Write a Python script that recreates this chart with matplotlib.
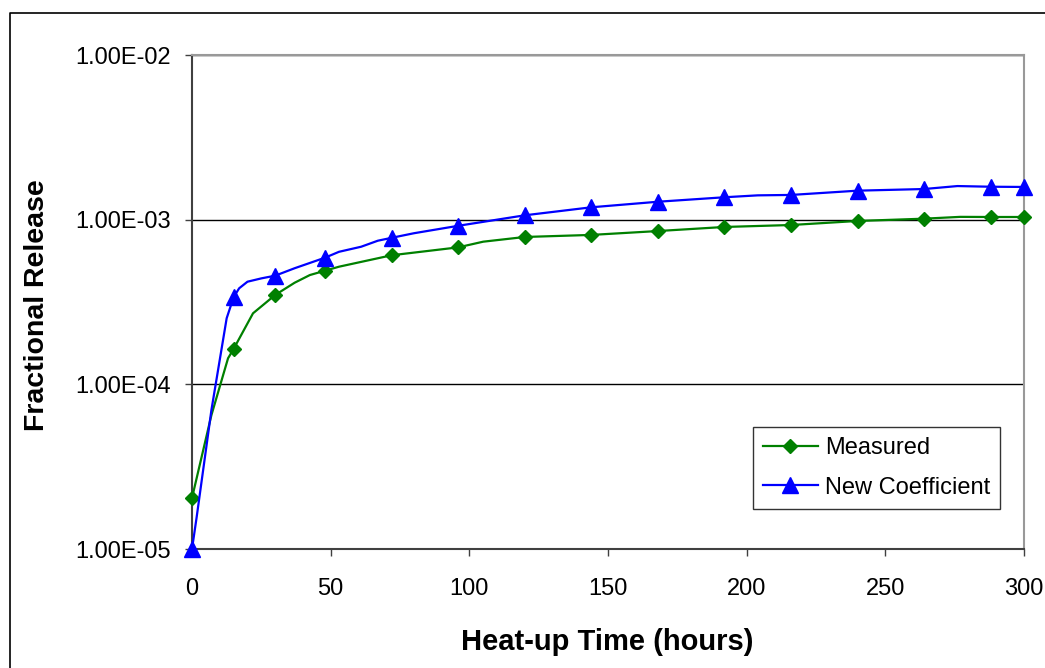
import matplotlib
matplotlib.use('Agg')
import matplotlib.pyplot as plt
from matplotlib.lines import Line2D

plt.rcParams['font.family'] = ['Liberation Sans', 'DejaVu Sans']

# hours where Excel draws the markers
marker_hours = [0, 15, 30, 48, 72, 96, 120, 144, 168, 192, 216, 240, 264, 288, 300]

# measured release (curve, markers included)
measured_hours = [0, 7, 13, 15, 22, 30, 37, 42.5, 48, 53, 72, 96, 105, 120,
                  144, 168, 192, 216, 240, 264, 277, 288, 300]
measured = [2.04e-5, 6.5e-5, 1.44e-4, 1.64e-4, 2.70e-4, 3.49e-4, 4.14e-4,
            4.61e-4, 4.90e-4, 5.18e-4, 6.08e-4, 6.79e-4, 7.35e-4, 7.85e-4,
            8.08e-4, 8.53e-4, 9.03e-4, 9.28e-4, 9.82e-4, 1.014e-3, 1.04e-3,
            1.038e-3, 1.038e-3]

# new coefficient model
newcoef_hours = [0, 1.7, 7, 12.5, 15, 17, 20, 25, 30, 37, 48, 53, 61, 67, 72,
                 80, 96, 120, 144, 168, 192, 204, 216, 240, 264, 276, 288, 300]
newcoef = [1.0e-5, 1.57e-5, 6.98e-5, 2.52e-4, 3.38e-4, 3.83e-4, 4.2e-4,
           4.4e-4, 4.57e-4, 5.07e-4, 5.88e-4, 6.38e-4, 6.85e-4, 7.45e-4,
           7.76e-4, 8.27e-4, 9.18e-4, 1.063e-3, 1.189e-3, 1.285e-3, 1.368e-3,
           1.405e-3, 1.413e-3, 1.50e-3, 1.535e-3, 1.60e-3, 1.585e-3, 1.58e-3]

yticks = [1e-5, 1e-4, 1e-3, 1e-2]
ytick_labels = ['1.00E-05', '1.00E-04', '1.00E-03', '1.00E-02']
xticks = [0, 50, 100, 150, 200, 250, 300]


def marks(hours):
    return [i for i, h in enumerate(hours) if h in marker_hours]


fig = plt.figure(figsize=(10.45, 6.68), dpi=100)
ax = fig.add_axes([192/1045, 1-549/668, (1024-192)/1045, (549-55)/668])

ax.plot(measured_hours, measured, color='#008000', lw=1.6, marker='D',
        ms=7.5, markevery=marks(measured_hours), label='Measured', zorder=3,
        clip_on=False)
ax.plot(newcoef_hours, newcoef, color='#0000FF', lw=1.6, marker='^',
        ms=11, markevery=marks(newcoef_hours), label='New Coefficient',
        zorder=4, clip_on=False)

ax.set_yscale('log')
ax.set_ylim(1e-5, 1e-2)
ax.set_xlim(0, 300)
ax.set_yticks(yticks)
ax.set_yticklabels(ytick_labels)
ax.minorticks_off()
ax.set_xticks(xticks)
ax.yaxis.grid(True, color='black', lw=1)
ax.set_axisbelow(True)

for s in ['left', 'bottom']:
    ax.spines[s].set_color('#404040')
    ax.spines[s].set_linewidth(1.5)
for s in ['top', 'right']:
    ax.spines[s].set_color('#999999')
    ax.spines[s].set_linewidth(1.5)

ax.tick_params(axis='y', direction='out', length=5, width=1, color='#404040',
               labelsize=17, pad=10)
ax.tick_params(axis='x', direction='out', length=5, width=1, color='#404040',
               labelsize=17, pad=16)

fig.text(607/1045, 1-642/668, 'Heat-up Time (hours)', ha='center', va='center',
         fontsize=21, fontweight='bold')
fig.text(37/1045, 1-305/668, 'Fractional Release', ha='center', va='center',
         rotation=90, fontsize=20.5, fontweight='bold')

leg = ax.legend(loc='upper left', bbox_to_anchor=(0.674, 0.247), fontsize=17,
                frameon=True, fancybox=False, borderaxespad=0, borderpad=0.42,
                handlelength=2.35, handletextpad=0.3, labelspacing=0.75,
                numpoints=1)
leg.get_frame().set_edgecolor('black')
leg.get_frame().set_linewidth(1)

# outer chart border (cut by image edge)
fig.add_artist(Line2D([10/1045, 10/1045, 1.0], [0.0, 1-13/668, 1-13/668],
                      transform=fig.transFigure, color='black', lw=1.2))

fig.savefig('out.png', dpi=100)
